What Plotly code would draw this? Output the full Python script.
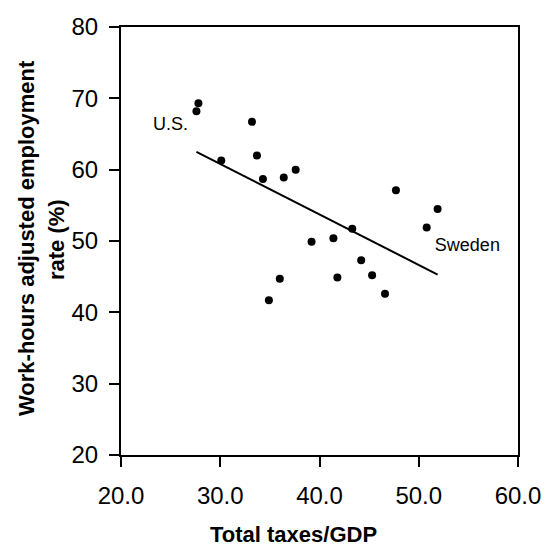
import plotly.graph_objects as go

# Data
tax_gdp = [27.8, 27.6, 33.2, 30.1, 33.7, 34.3, 36.4, 37.6, 47.7, 51.9,
           50.8, 43.3, 39.2, 41.4, 44.2, 45.3, 41.8, 36.0, 46.6, 34.9]
employment = [69.3, 68.2, 66.7, 61.3, 62.0, 58.7, 58.9, 60.0, 57.1, 54.5,
              51.9, 51.7, 49.9, 50.4, 47.3, 45.2, 44.9, 44.7, 42.6, 41.7]

fit_x = [27.6, 51.9]
fit_y = [62.5, 45.3]

label_text = ["U.S.", "Sweden"]
label_x = [25.0, 54.9]
label_y = [66.2, 49.2]

x_ticks = [20, 30, 40, 50, 60]
y_ticks = [20, 30, 40, 50, 60, 70, 80]

FONT = "Liberation Sans, Arial, sans-serif"

fig = go.Figure()
fig.add_trace(go.Scatter(x=tax_gdp, y=employment, mode="markers",
                         marker=dict(color="black", size=8), showlegend=False,
                         hoverinfo="skip"))
fig.add_trace(go.Scatter(x=fit_x, y=fit_y, mode="lines",
                         line=dict(color="black", width=2), showlegend=False,
                         hoverinfo="skip"))
fig.add_trace(go.Scatter(x=label_x, y=label_y, mode="text", text=label_text,
                         textfont=dict(family=FONT, size=18, color="black"),
                         textposition="middle center", showlegend=False,
                         hoverinfo="skip"))

fig.update_layout(
    width=545, height=546,
    margin=dict(l=121, r=27, t=27, b=91, autoexpand=False),
    paper_bgcolor="white", plot_bgcolor="white",
    font=dict(family=FONT, color="black"),
    xaxis=dict(range=[20, 60], tickvals=x_ticks, tickformat=".1f",
               showgrid=False, zeroline=False, showline=True, linecolor="black",
               linewidth=2, mirror=True, ticks="outside", ticklen=10,
               tickwidth=1.5, tickcolor="black", ticklabelstandoff=8,
               automargin=False,
               tickfont=dict(family=FONT, size=24, color="black")),
    yaxis=dict(range=[20, 80], tickvals=y_ticks,
               showgrid=False, zeroline=False, showline=True, linecolor="black",
               linewidth=2, mirror=True, ticks="outside", ticklen=10,
               tickwidth=1.5, tickcolor="black", ticklabelstandoff=6,
               automargin=False,
               tickfont=dict(family=FONT, size=24, color="black")),
    annotations=[
        dict(text="<b>Work-hours adjusted employment</b>", xref="paper", yref="paper",
             x=(26 - 121) / 397, y=(455 - 238) / 428, textangle=-90,
             showarrow=False, xanchor="center", yanchor="middle",
             font=dict(family=FONT, size=22, color="black")),
        dict(text="<b>rate (%)</b>", xref="paper", yref="paper",
             x=(56 - 121) / 397, y=(455 - 240) / 428, textangle=-90,
             showarrow=False, xanchor="center", yanchor="middle",
             font=dict(family=FONT, size=22, color="black")),
        dict(text="<b>Total taxes/GDP</b>", xref="paper", yref="paper",
             x=(293 - 121) / 397, y=-(534 - 455) / 428,
             showarrow=False, xanchor="center", yanchor="middle",
             font=dict(family=FONT, size=22, color="black")),
    ],
)

fig.write_html(
    "out.html",
    config={"displayModeBar": False},
    post_script="document.body.style.margin='0';document.body.style.overflow='hidden';",
)
